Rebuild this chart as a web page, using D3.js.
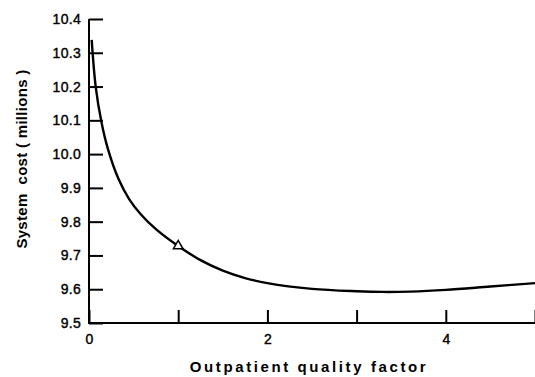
<!DOCTYPE html>
<html><head><meta charset="utf-8">
<script src="https://cdn.jsdelivr.net/npm/d3@7/dist/d3.min.js"></script>
<style>body{margin:0;background:#fff}svg{display:block}text{font-family:"Liberation Sans",Arial,sans-serif;fill:#000;white-space:pre}</style>
</head><body>
<svg id="c" width="535" height="377"></svg>
<script>
const curveX = [0.03, 0.075, 0.14, 0.21, 0.33, 0.45, 0.58, 0.75, 1.0, 1.25, 1.5, 1.75, 2.0, 2.5, 3.0, 3.3, 3.6, 4.0, 4.5, 5.0];
const curveY = [10.338, 10.20, 10.094, 10.017, 9.927, 9.867, 9.822, 9.778, 9.728, 9.686, 9.655, 9.633, 9.618, 9.601, 9.594, 9.592, 9.593, 9.598, 9.608, 9.618];
const markerX = [1.0];
const markerY = [9.728];
const xTicks = [0, 1, 2, 3, 4, 5];
const xTickLabels = ["0", "", "2", "", "4", ""];
const yTicks = [9.5, 9.6, 9.7, 9.8, 9.9, 10.0, 10.1, 10.2, 10.3, 10.4];
const yTickLabels = ["9.5", "9.6", "9.7", "9.8", "9.9", "10.0", "10.1", "10.2", "10.3", "10.4"];
const xTitle = "Outpatient quality factor";
const yTitle = "System  cost ( millions )";

const svg = d3.select("#c");
const x = d3.scaleLinear().domain([0, 5]).range([89, 535]);
const y = d3.scaleLinear().domain([9.5, 10.4]).range([323, 19]);

// axes
const xAxis = d3.axisBottom(x).tickValues(xTicks).tickSize(-13).tickFormat((d, i) => xTickLabels[i]).tickPadding(6);
const gx = svg.append("g").attr("transform", `translate(0,${y(9.5)})`).call(xAxis);
gx.select(".domain").attr("stroke-width", 2).attr("d", `M${x(0)},0H${x(5)+2}`);
gx.selectAll(".tick line").attr("stroke-width", 2);
gx.selectAll(".tick text").attr("font-size", 14).attr("dy", "0.9em").attr("transform", "translate(0,2)")
  .attr("stroke", "#000").attr("stroke-width", 0.4);

const yAxis = d3.axisLeft(y).tickValues(yTicks).tickSize(-14).tickFormat((d, i) => yTickLabels[i]).tickPadding(8);
const gy = svg.append("g").attr("transform", `translate(${x(0)},0)`).call(yAxis);
gy.select(".domain").attr("stroke-width", 2).attr("d", `M0,${y(10.4)}V${y(9.5)+1}`);
gy.selectAll(".tick line").attr("stroke-width", 2);
gy.selectAll(".tick text").attr("font-size", 14).attr("letter-spacing", "0.3px").attr("x", -8)
  .attr("stroke", "#000").attr("stroke-width", 0.4);

// curve
const pts = curveX.map((d, i) => [d, curveY[i]]);
const line = d3.line().x(d => x(d[0])).y(d => y(d[1])).curve(d3.curveCatmullRom.alpha(0.5));
svg.append("path").datum(pts).attr("d", line).attr("fill", "none").attr("stroke", "#000").attr("stroke-width", 2.4);

// marker
svg.selectAll(".mk").data(markerX.map((d, i) => [d, markerY[i]])).enter().append("path")
  .attr("d", d3.symbol(d3.symbolTriangle, 40))
  .attr("transform", d => `translate(${x(d[0])},${y(d[1])})`)
  .attr("fill", "#fff").attr("stroke", "#000").attr("stroke-width", 1.5);

// titles
svg.append("text").attr("x", 309).attr("y", 372).attr("text-anchor", "middle")
  .attr("font-size", 15).attr("font-weight", "bold").attr("letter-spacing", "2.6px").text(xTitle);
svg.append("text").attr("transform", "translate(27,159) rotate(-90)").attr("text-anchor", "middle")
  .attr("font-size", 15).attr("font-weight", "bold").attr("letter-spacing", "0.3px").text(yTitle);
</script>
</body></html>
